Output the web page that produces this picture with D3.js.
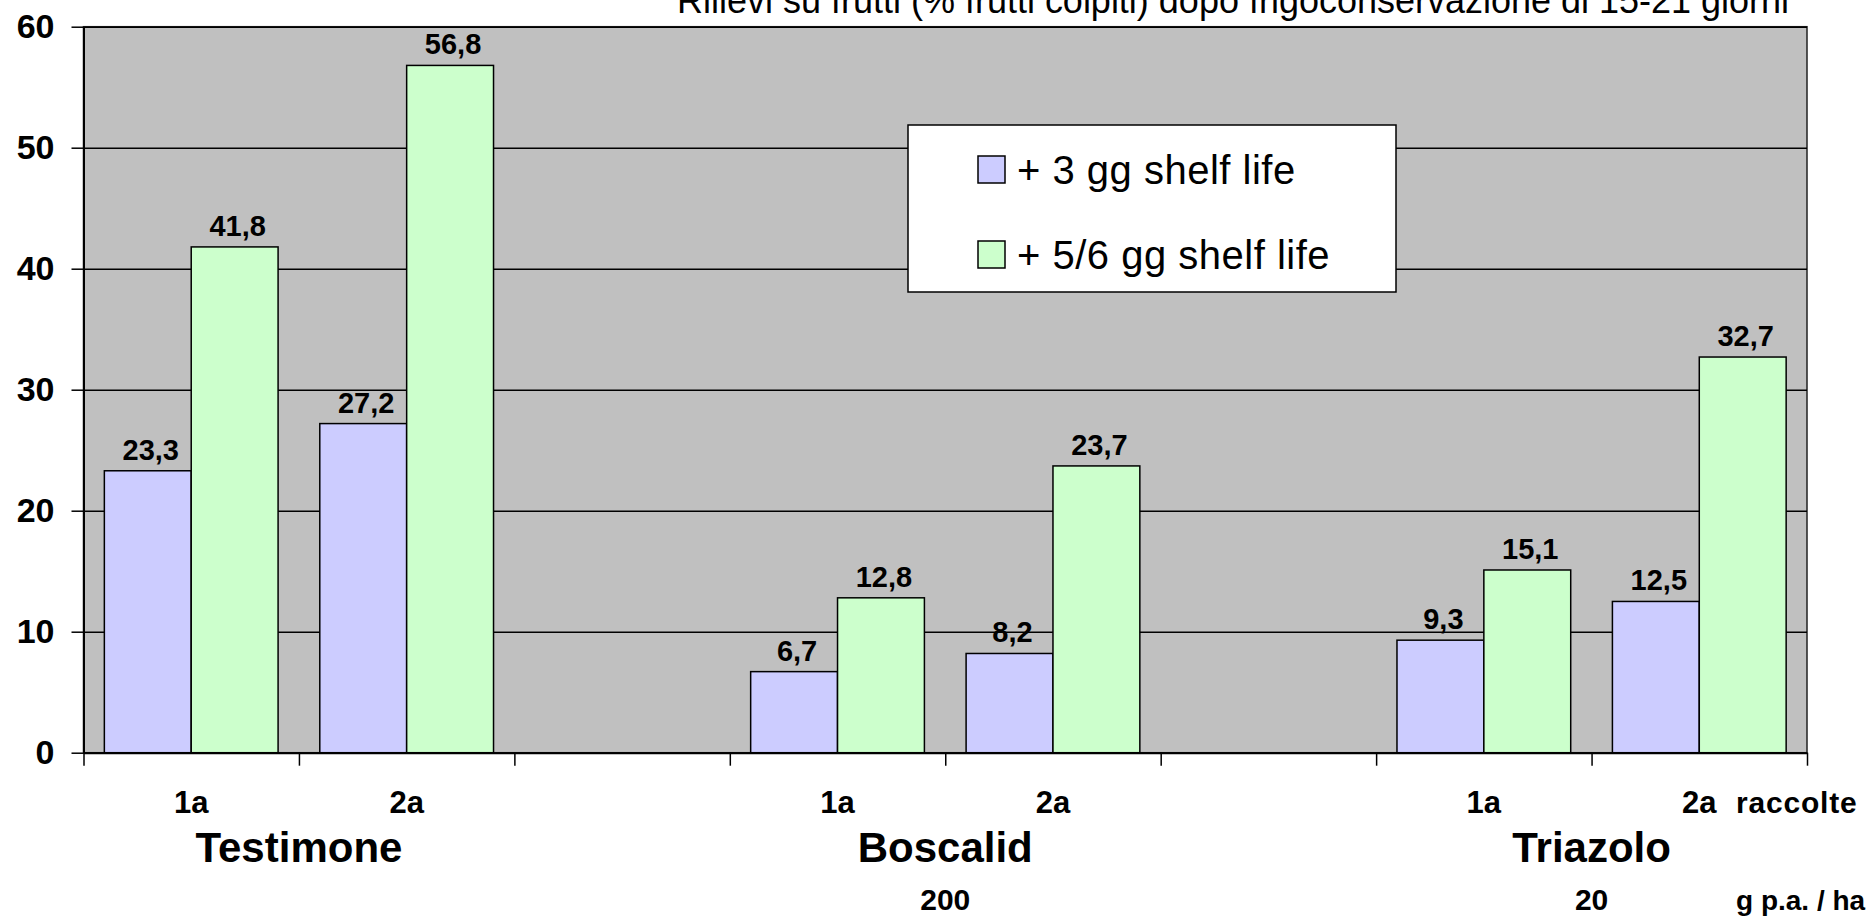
<!DOCTYPE html>
<html>
<head>
<meta charset="utf-8">
<script src="https://cdn.jsdelivr.net/npm/d3@7"></script>
<style>
    body { margin: 0; background: #fff; }
    text { font-family: "Liberation Sans", Arial, sans-serif; fill: #000; }
</style>
</head>
<body>
<div id="chart"></div>
<script>
// dati
const slots = ["T1", "T2", "gap1", "B1", "B2", "gap2", "Z1", "Z2"];
const harvestLabels = ["1a", "2a", "", "1a", "2a", "", "1a", "2a"];
const shelf3 = [23.3, 27.2, null, 6.7, 8.2, null, 9.3, 12.5];
const shelf56 = [41.8, 56.8, null, 12.8, 23.7, null, 15.1, 32.7];
const treatments = ["Testimone", "Boscalid", "Triazolo"];
const treatmentSlots = [["T1", "T2"], ["B1", "B2"], ["Z1", "Z2"]];
const doses = ["", "200", "20"];
const seriesNames = ["+ 3 gg shelf life", "+ 5/6 gg shelf life"];
const seriesColors = ["#CCCCFF", "#CCFFCC"];
const yTicks = [0, 10, 20, 30, 40, 50, 60];
const title = "Rilievi su frutti (% frutti colpiti) dopo frigoconservazione di 15-21 giorni";

const width = 1870;
const height = 917;
const plot = { left: 83.5, right: 1807, top: 26.7, bottom: 752.7 };

const svg = d3.select("#chart")
    .append("svg")
    .attr("width", width)
    .attr("height", height);

const x0 = d3.scaleBand()
    .domain(slots)
    .range([plot.left, plot.right])
    .paddingInner(0)
    .paddingOuter(0);

const x1 = d3.scaleBand()
    .domain([0, 1])
    .range([0, x0.bandwidth()])
    .paddingInner(0)
    .paddingOuter(0.24);

const y = d3.scaleLinear()
    .domain([0, 60])
    .range([plot.bottom, plot.top]);

// sfondo area grafico
svg.append("rect")
    .attr("x", plot.left)
    .attr("y", plot.top)
    .attr("width", plot.right - plot.left)
    .attr("height", plot.bottom - plot.top)
    .attr("fill", "#C0C0C0")
    .attr("stroke", "#222")
    .attr("stroke-width", 1.5);

// griglia
const grid = svg.append("g")
    .attr("transform", `translate(${plot.left},0)`)
    .call(d3.axisLeft(y).tickValues(yTicks).tickSize(-(plot.right - plot.left)).tickFormat(""));
grid.select(".domain").remove();
grid.selectAll("line").attr("stroke", "#000").attr("stroke-width", 1.5);

// barre
const rows = slots.map((s, i) => ({ slot: s, values: [shelf3[i], shelf56[i]] }));

const groups = svg.append("g")
    .selectAll("g")
    .data(rows)
    .enter()
    .append("g")
    .attr("transform", (d) => `translate(${x0(d.slot)},0)`);

groups.selectAll("rect")
    .data((d) => d.values.map((v, k) => ({ k, v })).filter((e) => e.v !== null))
    .enter()
    .append("rect")
    .attr("x", (d) => x1(d.k))
    .attr("y", (d) => y(d.v))
    .attr("width", x1.bandwidth())
    .attr("height", (d) => y(0) - y(d.v))
    .attr("fill", (d) => seriesColors[d.k])
    .attr("stroke", "#000")
    .attr("stroke-width", 1.5);

groups.selectAll("text")
    .data((d) => d.values.map((v, k) => ({ k, v })).filter((e) => e.v !== null))
    .enter()
    .append("text")
    .attr("x", (d) => x1(d.k) + x1.bandwidth() / 2 + 3)
    .attr("y", (d) => y(d.v) - 11)
    .attr("text-anchor", "middle")
    .style("font-size", "29px")
    .style("font-weight", "bold")
    .text((d) => d3.format(".1f")(d.v).replace(".", ","));

// asse y
const yAxis = svg.append("g")
    .attr("transform", `translate(${plot.left},0)`)
    .call(d3.axisLeft(y).tickValues(yTicks).tickSize(12).tickSizeOuter(0).tickPadding(17));
yAxis.select(".domain").attr("stroke", "#000").attr("stroke-width", 2);
yAxis.selectAll("line").attr("stroke", "#000").attr("stroke-width", 1.5);
yAxis.selectAll("text")
    .style("font-size", "34px")
    .style("font-weight", "bold")
    .style("font-family", "'Liberation Sans', Arial, sans-serif");

// asse x: tacche ai confini delle categorie
const xEdge = d3.scaleLinear().domain([0, slots.length]).range([plot.left, plot.right]);
const xAxis = svg.append("g")
    .attr("transform", `translate(0,${plot.bottom})`)
    .call(d3.axisBottom(xEdge).tickValues(d3.range(slots.length + 1)).tickSize(13).tickSizeOuter(0).tickFormat(""));
xAxis.select(".domain").attr("stroke", "#000").attr("stroke-width", 2);
xAxis.selectAll("line").attr("stroke", "#000").attr("stroke-width", 1.5);

// etichette raccolte
svg.append("g")
    .selectAll("text")
    .data(slots.filter((s, i) => harvestLabels[i] !== ""))
    .enter()
    .append("text")
    .attr("x", (d) => x0(d) + x0.bandwidth() / 2)
    .attr("y", 813)
    .attr("text-anchor", "middle")
    .style("font-size", "31px")
    .style("font-weight", "bold")
    .text((d) => harvestLabels[slots.indexOf(d)]);

svg.append("text")
    .attr("x", 1736)
    .attr("y", 813)
    .style("font-size", "30px")
    .style("font-weight", "bold")
    .style("letter-spacing", "0.8px")
    .text("raccolte");

// nomi dei trattamenti e dosi
const treatX = (i) => (x0(treatmentSlots[i][0]) + x0(treatmentSlots[i][1]) + x0.bandwidth()) / 2;

svg.append("g")
    .selectAll("text")
    .data(treatments)
    .enter()
    .append("text")
    .attr("x", (d, i) => treatX(i))
    .attr("y", 862)
    .attr("text-anchor", "middle")
    .style("font-size", "42px")
    .style("font-weight", "bold")
    .text((d) => d);

svg.append("g")
    .selectAll("text")
    .data(doses)
    .enter()
    .append("text")
    .attr("x", (d, i) => treatX(i))
    .attr("y", 910)
    .attr("text-anchor", "middle")
    .style("font-size", "30px")
    .style("font-weight", "bold")
    .text((d) => d);

svg.append("text")
    .attr("x", 1736)
    .attr("y", 910)
    .style("font-size", "28px")
    .style("font-weight", "bold")
    .text("g p.a. / ha");

// titolo (tagliato in alto come nell'originale)
svg.append("text")
    .attr("x", 677)
    .attr("y", 13)
    .attr("textLength", 1112)
    .style("font-size", "36px")
    .text(title);

// legenda
const legend = svg.append("g").attr("transform", "translate(908,125)");
legend.append("rect")
    .attr("width", 488)
    .attr("height", 167)
    .attr("fill", "#fff")
    .attr("stroke", "#000")
    .attr("stroke-width", 1.5);

const item = legend.selectAll("g.item")
    .data(seriesNames)
    .enter()
    .append("g")
    .attr("class", "item")
    .attr("transform", (d, i) => `translate(70,${31 + i * 85})`);

item.append("rect")
    .attr("width", 27)
    .attr("height", 27)
    .attr("fill", (d, i) => seriesColors[i])
    .attr("stroke", "#000")
    .attr("stroke-width", 1.5);

item.append("text")
    .attr("x", 39)
    .attr("y", 28)
    .style("font-size", "40px")
    .style("letter-spacing", "0.5px")
    .text((d) => d);
</script>
</body>
</html>
